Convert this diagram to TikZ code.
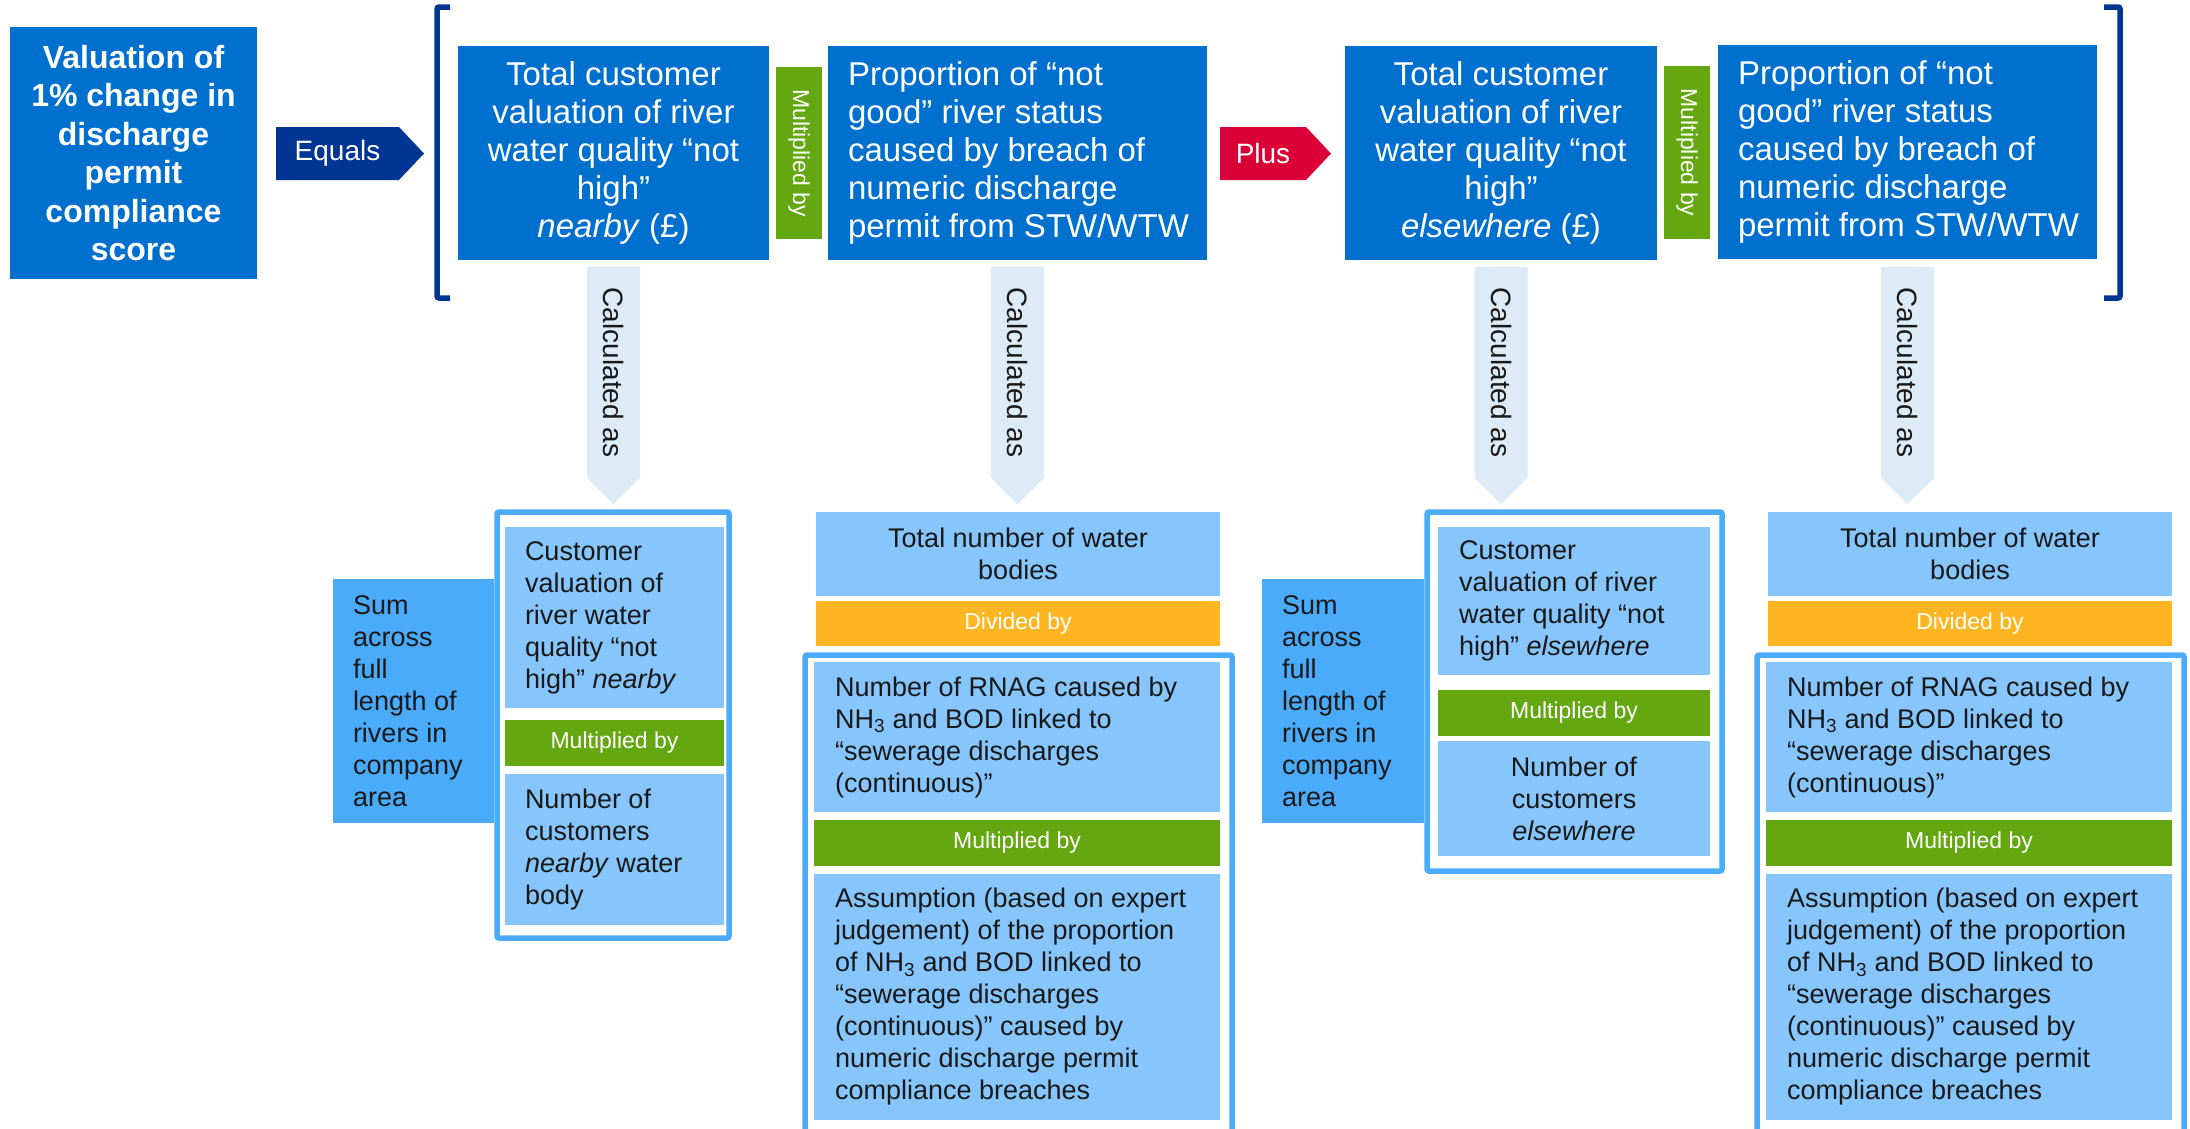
\documentclass[tikz,border=0pt]{standalone}
\usepackage{fontspec}
\setmainfont{Liberation Sans}
\usetikzlibrary{fit}
\definecolor{mainblue}{RGB}{0,112,206}
\definecolor{navy}{RGB}{0,53,148}
\definecolor{plusred}{RGB}{218,0,55}
\definecolor{opgreen}{RGB}{100,167,17}
\definecolor{oporange}{RGB}{253,182,34}
\definecolor{paleblue}{RGB}{134,198,253}
\definecolor{midblue}{RGB}{74,171,251}
\definecolor{arrowfill}{RGB}{220,235,245}
\definecolor{ink}{RGB}{25,25,25}
\begin{document}
\begin{tikzpicture}[x=1pt,y=-1pt,
  every node/.style={inner sep=0pt,outer sep=0pt},
  topbox/.style={fill=mainblue},
  toptext/.style={text=white,align=left,anchor=west,font=\fontsize{33}{38}\selectfont},
  topctext/.style={text=white,align=center,font=\fontsize{33}{38}\selectfont},
  palebox/.style={fill=paleblue},
  sumbox/.style={fill=midblue},
  lowtext/.style={text=ink,align=left,anchor=west,font=\fontsize{27}{32}\selectfont},
  lowctext/.style={text=ink,align=center,font=\fontsize{27}{32}\selectfont},
  greenbar/.style={fill=opgreen},
  orangebar/.style={fill=oporange},
  optag/.style={text=white,font=\fontsize{23}{27}\selectfont},
  frame/.style={draw=midblue,line width=5.5pt,fill=white,rounded corners=2pt},
  bracket/.style={draw=navy,line width=5.5pt,rounded corners=2pt},
  optext/.style={text=white,font=\fontsize{28}{32}\selectfont},
  calctext/.style={rotate=-90,text=ink,font=\fontsize{28}{32}\selectfont}]

\useasboundingbox (0,0) rectangle (2190,1128);
\clip (0,0) rectangle (2190,1128);
\fill[white] (0,0) rectangle (2190,1128);

% ---------- top equation row ----------
\node[topbox,fit={(10,27)(257,279)}] (val) {};
\node[topctext,font=\fontsize{32}{38.5}\selectfont\bfseries] (valt) at (val.center)
  {Valuation of\\1\% change in\\discharge\\permit\\compliance\\score};

\fill[navy] (276,127) -- (399,127) -- (424,153.5) -- (399,180) -- (276,180) -- cycle;
\node[optext] (eq) at (337.5,153.5) {Equals};

\draw[bracket] (450,7) -- (437,7) -- (437,298) -- (450,298);
\draw[bracket] (2104,7) -- (2120,7) -- (2120,298) -- (2104,298);

\node[topbox,fit={(458,46)(769,260)}] (tn) {};
\node[topctext] (tnt) at (tn.center)
  {Total customer\\valuation of river\\water quality “not\\high”\\\textit{nearby} (£)};

\node[greenbar,fit={(776,67)(822,239)}] (m1) {};
\node[optag,rotate=-90] (m1t) at (m1.center) {Multiplied by};

\node[topbox,fit={(828,46)(1207,260)}] (pn) {};
\node[toptext] (pnt) at ([xshift=20pt]pn.west)
  {Proportion of “not\\good” river status\\caused by breach of\\numeric discharge\\permit from STW/WTW};

\fill[plusred] (1220,127) -- (1306,127) -- (1331,153.5) -- (1306,180) -- (1220,180) -- cycle;
\node[optext] (pl) at (1263,153.5) {Plus};

\node[topbox,fit={(1345,46)(1657,260)}] (te) {};
\node[topctext] (tet) at (te.center)
  {Total customer\\valuation of river\\water quality “not\\high”\\\textit{elsewhere} (£)};

\node[greenbar,fit={(1664,66)(1710,239)}] (m2) {};
\node[optag,rotate=-90] (m2t) at (m2.center) {Multiplied by};

\node[topbox,fit={(1718,45)(2097,259)}] (pe) {};
\node[toptext] (pet) at ([xshift=20pt]pe.west)
  {Proportion of “not\\good” river status\\caused by breach of\\numeric discharge\\permit from STW/WTW};

% ---------- "Calculated as" arrows ----------
\foreach \cx/\nm in {613.5/k1,1017.5/k2,1501/k3,1907.5/k4}{
  \fill[arrowfill] (\cx-26.5,267) -- (\cx+26.5,267) -- (\cx+26.5,478) -- (\cx,504) -- (\cx-26.5,478) -- cycle;
  \node[calctext] (\nm) at (\cx,372.5) {Calculated as};
}

% ---------- nearby valuation ----------
\node[sumbox,fit={(333,579)(494,823)}] (s1) {};
\node[lowtext] (s1t) at ([xshift=20pt]s1.west) {Sum\\across\\full\\length of\\rivers in\\company\\area};
\node[frame,fit={(497,512)(729,938)}] (f1) {};
\node[palebox,fit={(505,527)(724,708)}] (g1a) {};
\node[lowtext] (g1at) at ([xshift=20pt]g1a.west) {Customer\\valuation of\\river water\\quality “not\\high” \textit{nearby}};
\node[greenbar,fit={(505,720)(724,766)}] (g1m) {};
\node[optag] (g1mt) at (g1m.center) {Multiplied by};
\node[palebox,fit={(505,774)(724,925)}] (g1b) {};
\node[lowtext] (g1bt) at ([xshift=20pt]g1b.west) {Number of\\customers\\\textit{nearby} water\\body};

% ---------- proportion (first) ----------
\node[palebox,fit={(816,512)(1220,596)}] (g2top) {};
\node[lowctext] (g2topt) at (g2top.center) {Total number of water\\bodies};
\node[orangebar,fit={(816,601)(1220,646)}] (g2d) {};
\node[optag] (g2dt) at (g2d.center) {Divided by};
\node[frame,fit={(805,655)(1232,1150)}] (f2) {};
\node[palebox,fit={(814,662)(1220,812)}] (g2a) {};
\node[lowtext] (g2at) at ([xshift=21pt]g2a.west)
  {Number of RNAG caused by\\NH\textsubscript{3} and BOD linked to\\“sewerage discharges\\(continuous)”};
\node[greenbar,fit={(814,820)(1220,866)}] (g2m) {};
\node[optag] (g2mt) at (g2m.center) {Multiplied by};
\node[palebox,fit={(814,874)(1220,1120)}] (g2b) {};
\node[lowtext] (g2bt) at ([xshift=21pt]g2b.west)
  {Assumption (based on expert\\judgement) of the proportion\\of NH\textsubscript{3} and BOD linked to\\“sewerage discharges\\(continuous)” caused by\\numeric discharge permit\\compliance breaches};

% ---------- elsewhere valuation ----------
\node[sumbox,fit={(1262,579)(1424,823)}] (s3) {};
\node[lowtext] (s3t) at ([xshift=20pt]s3.west) {Sum\\across\\full\\length of\\rivers in\\company\\area};
\node[frame,fit={(1427,512)(1722,871)}] (f3) {};
\node[palebox,fit={(1438,527)(1710,675)}] (g3a) {};
\node[lowtext] (g3at) at ([xshift=21pt]g3a.west) {Customer\\valuation of river\\water quality “not\\high” \textit{elsewhere}};
\node[greenbar,fit={(1438,690)(1710,736)}] (g3m) {};
\node[optag] (g3mt) at (g3m.center) {Multiplied by};
\node[palebox,fit={(1438,741)(1710,856)}] (g3b) {};
\node[lowctext] (g3bt) at (g3b.center) {Number of\\customers\\\textit{elsewhere}};

% ---------- proportion (second) ----------
\node[palebox,fit={(1768,512)(2172,596)}] (g4top) {};
\node[lowctext] (g4topt) at (g4top.center) {Total number of water\\bodies};
\node[orangebar,fit={(1768,601)(2172,646)}] (g4d) {};
\node[optag] (g4dt) at (g4d.center) {Divided by};
\node[frame,fit={(1757,655)(2184,1150)}] (f4) {};
\node[palebox,fit={(1766,662)(2172,812)}] (g4a) {};
\node[lowtext] (g4at) at ([xshift=21pt]g4a.west)
  {Number of RNAG caused by\\NH\textsubscript{3} and BOD linked to\\“sewerage discharges\\(continuous)”};
\node[greenbar,fit={(1766,820)(2172,866)}] (g4m) {};
\node[optag] (g4mt) at (g4m.center) {Multiplied by};
\node[palebox,fit={(1766,874)(2172,1120)}] (g4b) {};
\node[lowtext] (g4bt) at ([xshift=21pt]g4b.west)
  {Assumption (based on expert\\judgement) of the proportion\\of NH\textsubscript{3} and BOD linked to\\“sewerage discharges\\(continuous)” caused by\\numeric discharge permit\\compliance breaches};

\end{tikzpicture}
\end{document}
